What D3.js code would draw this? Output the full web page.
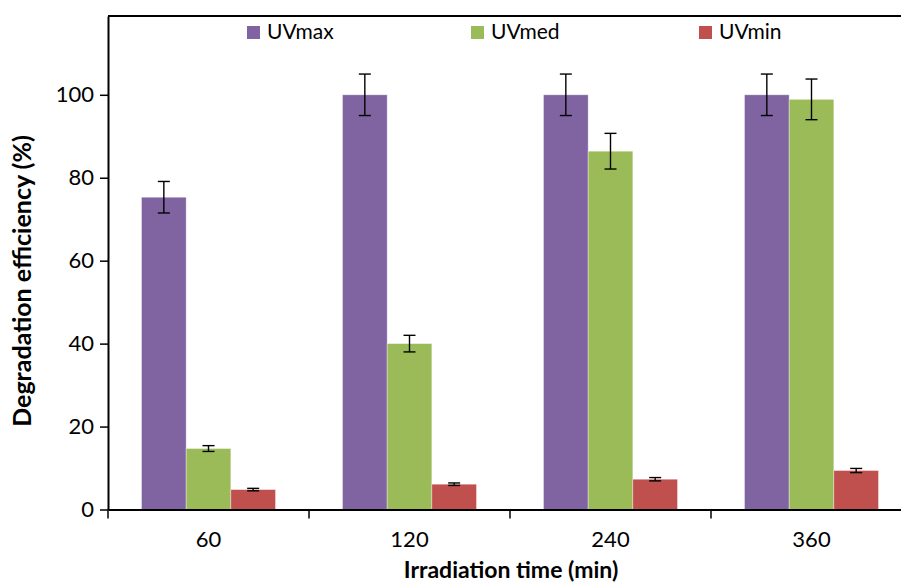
<!DOCTYPE html>
<html>
<head>
<meta charset="utf-8">
<script src="https://cdn.jsdelivr.net/npm/d3@7"></script>
<style>
  body { margin: 0; background: #fff; }
  svg { display: block; font-family: Lato, "Open Sans", sans-serif; }
</style>
</head>
<body>
<div id="chart"></div>
<script>
// data
var categories = ["60", "120", "240", "360"];
var seriesNames = ["UVmax", "UVmed", "UVmin"];
var uvMax = [75.3, 100, 100, 100];
var uvMed = [14.7, 40.0, 86.4, 98.9];
var uvMin = [4.8, 6.1, 7.3, 9.4];
var errMax = [3.8, 5.0, 5.0, 5.0];
var errMed = [0.7, 2.0, 4.3, 4.9];
var errMin = [0.3, 0.3, 0.4, 0.5];
var yTicks = [0, 20, 40, 60, 80, 100];
var colors = ["#8064a2", "#9bbb59", "#c0504d"];

var W = 901, H = 583;
var plotLeft = 108, plotTop = 16, plotBottom = 509.5, plotRight = 912;

var svg = d3.select("#chart")
  .append("svg")
    .attr("width", W)
    .attr("height", H);

var x = d3.scaleBand()
  .domain(categories)
  .range([plotLeft, plotRight])
  .paddingInner(0)
  .paddingOuter(0);

var xs = d3.scaleBand()
  .domain(seriesNames)
  .range([0, x.bandwidth()])
  .paddingInner(0)
  .paddingOuter(0.75);

var y = d3.scaleLinear()
  .domain([0, 119])
  .range([plotBottom, plotTop]);

var rows = [];
seriesNames.forEach(function(s, i) {
  var vals = [uvMax, uvMed, uvMin][i];
  var errs = [errMax, errMed, errMin][i];
  categories.forEach(function(c, j) {
    rows.push({cat: c, series: s, value: vals[j], err: errs[j], color: colors[i]});
  });
});

// bars
svg.append("g")
  .selectAll("rect")
  .data(rows)
  .enter()
  .append("rect")
    .attr("x", function(d) { return x(d.cat) + xs(d.series) })
    .attr("y", function(d) { return y(d.value) })
    .attr("width", xs.bandwidth())
    .attr("height", function(d) { return y(0) - y(d.value) })
    .attr("fill", function(d) { return d.color })
    .attr("stroke", "rgba(255,255,255,0.45)")
    .attr("stroke-width", 0.8);

// error bars
var eb = svg.append("g")
  .attr("stroke", "#000")
  .attr("stroke-width", 1.4)
  .selectAll("g")
  .data(rows)
  .enter()
  .append("g")
    .attr("transform", function(d) { return "translate(" + (x(d.cat) + xs(d.series) + xs.bandwidth() / 2) + ",0)" });
eb.append("line")
  .attr("y1", function(d) { return y(d.value + d.err) })
  .attr("y2", function(d) { return y(d.value - d.err) });
eb.append("line")
  .attr("x1", -6).attr("x2", 6)
  .attr("y1", function(d) { return y(d.value + d.err) })
  .attr("y2", function(d) { return y(d.value + d.err) });
eb.append("line")
  .attr("x1", -6).attr("x2", 6)
  .attr("y1", function(d) { return y(d.value - d.err) })
  .attr("y2", function(d) { return y(d.value - d.err) });

// y axis
var yAxis = svg.append("g")
  .attr("transform", "translate(" + plotLeft + ",0)")
  .call(d3.axisLeft(y).tickValues(yTicks).tickSize(8).tickPadding(6).tickSizeOuter(0));
yAxis.select(".domain").attr("stroke-width", 2);
yAxis.selectAll(".tick line").attr("stroke-width", 1.5);
yAxis.selectAll("text")
  .style("font-family", "Lato, sans-serif")
  .style("font-size", "22px")
  .attr("fill", "#000");

// x axis: ticks sit between categories
var xAxis = svg.append("g")
  .attr("transform", "translate(0," + plotBottom + ")")
  .call(d3.axisBottom(x).tickSize(0).tickPadding(22).tickSizeOuter(0));
xAxis.select(".domain").attr("stroke-width", 2);
xAxis.selectAll("text")
  .style("font-family", "Lato, sans-serif")
  .style("font-size", "22px")
  .attr("fill", "#000");
xAxis.selectAll(".sep")
  .data(categories)
  .enter()
  .append("line")
    .attr("x1", function(d) { return x(d) })
    .attr("x2", function(d) { return x(d) })
    .attr("y1", 0)
    .attr("y2", 9)
    .attr("stroke", "#000")
    .attr("stroke-width", 1.5);

// top frame line
svg.append("line")
  .attr("x1", plotLeft).attr("x2", W)
  .attr("y1", y(119)).attr("y2", y(119))
  .attr("stroke", "#000")
  .attr("stroke-width", 2);

// axis titles
svg.append("text")
  .attr("text-anchor", "middle")
  .attr("x", 511)
  .attr("y", 578)
  .style("font-size", "23px")
  .style("font-weight", "bold")
  .text("Irradiation time (min)");

svg.append("text")
  .attr("text-anchor", "middle")
  .attr("transform", "translate(31,281) rotate(-90)")
  .style("font-size", "25px")
  .style("font-weight", "bold")
  .text("Degradation efficiency (%)");

// legend
var legendX = [247, 471, 699];
var lg = svg.append("g")
  .selectAll("g")
  .data(seriesNames)
  .enter()
  .append("g")
    .attr("transform", function(d, i) { return "translate(" + legendX[i] + ",26)" });
lg.append("rect")
  .attr("width", 13)
  .attr("height", 13)
  .attr("fill", function(d, i) { return colors[i] });
lg.append("text")
  .attr("x", 20)
  .attr("y", 13)
  .style("font-size", "21px")
  .text(function(d) { return d });
</script>
</body>
</html>
